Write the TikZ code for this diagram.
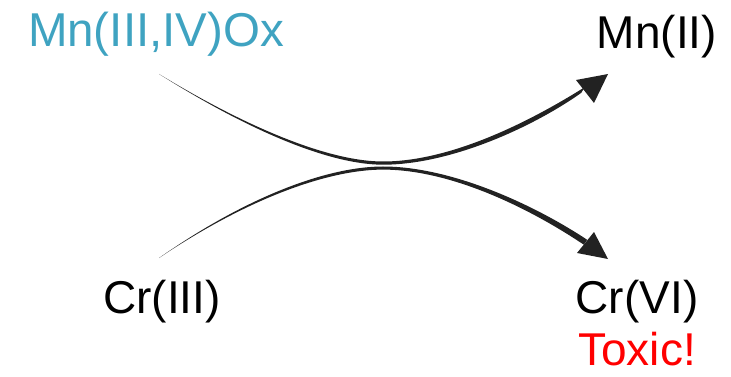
\documentclass[tikz,border=0pt]{standalone}
\usepackage{fontspec}
\setmainfont{Liberation Sans}
\definecolor{mnblue}{HTML}{3FA3C1}
\definecolor{arrowgray}{HTML}{222222}
\begin{document}
\begin{tikzpicture}[x=1pt,y=-1pt,
  lbl/.style={inner sep=0pt,anchor=base,font=\fontsize{46}{50}\selectfont},
  body/.style={fill=arrowgray,draw=none}]
\useasboundingbox (0,0) rectangle (731,377);
\node[lbl,text=mnblue,font=\fontsize{47.5}{50}\selectfont] (mnox) at (156,47) {Mn(III,IV)Ox};
\node[lbl] (mn2) at (657,49) {Mn(II)};
\node[lbl] (cr3) at (162,313) {Cr(III)};
\node[lbl] (cr6) at (637,313) {Cr(VI)};
\node[lbl,text=red,text depth=0pt] (tox) at (637,365) {Toxic!};
% top tapered arrow
\coordinate (ts) at (159,74);
\coordinate (tt) at (608,74);
\fill[body] (ts) .. controls (250,129.2) and (330,161.5) .. (383,161.5)
  .. controls (450,161.5) and (528,122.8) .. (584.8,87.1)
  -- (581.2,92.9)
  .. controls (532,127.7) and (450,164.7) .. (383,164.7)
  .. controls (330,164.7) and (250,131.3) .. (ts) -- cycle;
\fill[body] (tt) -- (576,80) -- (594,103) -- cycle;
% bottom tapered arrow
\coordinate (bs) at (159,258);
\coordinate (bt) at (608,259);
\fill[body] (bs) .. controls (250,194.3) and (330,166.5) .. (383,166.5)
  .. controls (450,166.5) and (532,203.3) .. (587.2,239.8)
  -- (583.8,244.7)
  .. controls (528,207.2) and (450,169.6) .. (383,169.6)
  .. controls (330,169.6) and (250,196.9) .. (bs) -- cycle;
\fill[body] (bt) -- (594,232) -- (577,253) -- cycle;
\end{tikzpicture}
\end{document}
